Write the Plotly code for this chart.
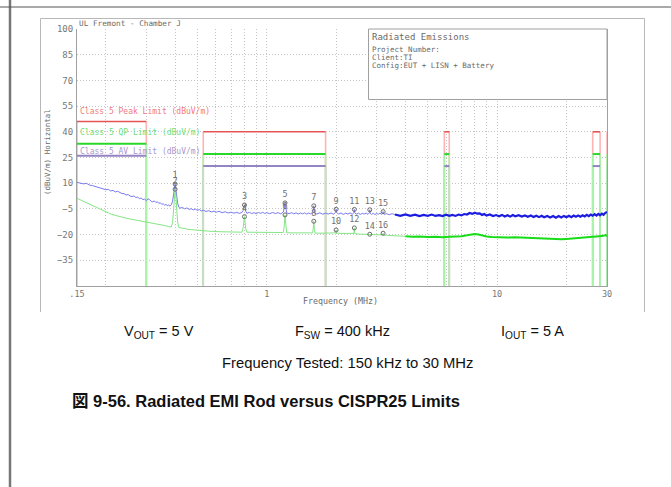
import plotly.graph_objects as go

W, H = 671, 487

# ---------------- data ----------------
# CISPR 25 Class 5 limit bands (MHz, dBuV/m)
band_start = [0.15, 0.53, 5.9, 26.0, 30.0]
band_stop = [0.30, 1.8, 6.2, 28.0, 54.0]
peak_limit = [46, 40, 40, 40, 40]
qp_limit = [33, 27, 27, 27, 27]
av_limit = [26, 20, 20, 20, 20]

# Peak detector sweep, 150 kHz .. 3.6 MHz
peak_lo_f = [
    0.150, 0.155, 0.160, 0.165, 0.170, 0.175, 0.180, 0.185, 0.190, 0.195,
    0.200, 0.205, 0.210, 0.215, 0.220, 0.225, 0.230, 0.235, 0.240, 0.245,
    0.250, 0.255, 0.260, 0.265, 0.270, 0.275, 0.280, 0.285, 0.290, 0.295,
    0.300, 0.305, 0.310, 0.315, 0.320, 0.325, 0.330, 0.335, 0.340, 0.345,
    0.350, 0.355, 0.360, 0.365, 0.370, 0.375, 0.380, 0.385, 0.390, 0.394,
    0.397, 0.400, 0.403, 0.406, 0.410, 0.415, 0.420, 0.430, 0.440, 0.450,
    0.460, 0.470, 0.480, 0.490, 0.500, 0.510, 0.520, 0.530, 0.545, 0.560,
    0.575, 0.590, 0.605, 0.620, 0.640, 0.660, 0.680, 0.700, 0.720, 0.740,
    0.760, 0.780, 0.790, 0.795, 0.800, 0.805, 0.810, 0.820, 0.840, 0.860,
    0.880, 0.900, 0.920, 0.940, 0.960, 0.980, 1.000, 1.030, 1.060, 1.090,
    1.120, 1.150, 1.180, 1.190, 1.195, 1.200, 1.205, 1.210, 1.220, 1.250,
    1.280, 1.310, 1.340, 1.370, 1.400, 1.430, 1.460, 1.490, 1.520, 1.550,
    1.580, 1.590, 1.595, 1.600, 1.605, 1.610, 1.620, 1.650, 1.700, 1.750,
    1.800, 1.850, 1.900, 1.950, 1.990, 2.000, 2.010, 2.050, 2.100, 2.150,
    2.200, 2.250, 2.300, 2.350, 2.390, 2.400, 2.410, 2.450, 2.500, 2.550,
    2.600, 2.650, 2.700, 2.750, 2.790, 2.800, 2.810, 2.850, 2.900, 2.950,
    3.000, 3.050, 3.100, 3.150, 3.190, 3.200, 3.210, 3.250, 3.300, 3.400,
    3.500, 3.600,
]
peak_lo_db = [
    10.5, 10.0, 9.6, 9.9, 8.9, 8.6, 8.1, 7.9, 7.2, 7.0,
    6.2, 6.4, 5.5, 5.8, 4.9, 5.3, 4.4, 4.0, 3.9, 3.1,
    3.4, 2.5, 2.2, 2.6, 1.6, 1.9, 1.0, 1.3, 0.4, 0.7,
    -0.2, 0.9, 0.4, -0.6, -0.9, -0.3, -1.3, -0.8, -1.8, -1.4,
    -2.3, -2.0, -2.8, -2.4, -3.1, -2.7, -3.4, -2.6, -0.5, 3.5,
    7.0, 9.5, 6.5, 2.5, -1.5, -4.0, -4.6, -4.1, -5.0, -4.4,
    -5.3, -4.9, -5.6, -5.1, -5.9, -5.4, -6.2, -5.7, -6.5, -6.0,
    -6.8, -6.3, -6.9, -6.4, -7.2, -6.7, -7.4, -6.9, -7.5, -7.0,
    -7.6, -7.1, -6.0, -4.0, -2.7, -4.2, -6.3, -7.6, -7.0, -7.7,
    -7.2, -7.8, -7.1, -7.6, -7.0, -7.7, -7.2, -7.8, -7.1, -7.7,
    -7.2, -7.9, -6.8, -4.5, -2.5, -1.5, -2.8, -5.0, -7.3, -7.8,
    -7.2, -7.9, -7.3, -8.0, -7.4, -7.9, -7.3, -8.0, -7.4, -7.9,
    -7.0, -5.5, -4.0, -3.2, -4.4, -6.2, -7.6, -8.0, -7.3, -8.1,
    -7.5, -8.0, -7.4, -8.1, -7.0, -5.2, -7.1, -8.0, -7.4, -8.2,
    -7.5, -8.0, -7.4, -8.1, -7.2, -5.3, -7.3, -8.1, -7.5, -8.2,
    -7.6, -8.0, -7.4, -8.2, -7.3, -5.5, -7.4, -8.2, -7.6, -8.3,
    -7.7, -8.1, -7.5, -8.2, -7.6, -6.6, -7.8, -8.3, -7.7, -8.4,
    -7.8, -8.3,
]

# Peak detector sweep, 3.6 MHz .. 30 MHz (dense part)
peak_hi_f = [
    3.6, 3.8, 4.0, 4.2, 4.4, 4.6, 4.8, 5.0, 5.2, 5.4,
    5.6, 5.8, 6.0, 6.2, 6.4, 6.6, 6.8, 7.0, 7.2, 7.4,
    7.6, 7.8, 8.0, 8.2, 8.4, 8.6, 8.8, 9.0, 9.3, 9.6,
    9.9, 10.2, 10.5, 10.8, 11.1, 11.4, 11.7, 12.0, 12.4, 12.8,
    13.2, 13.6, 14.0, 14.4, 14.8, 15.2, 15.6, 16.0, 16.5, 17.0,
    17.5, 18.0, 18.5, 19.0, 19.5, 20.0, 20.5, 21.0, 21.5, 22.0,
    22.5, 23.0, 23.5, 24.0, 24.5, 25.0, 25.5, 26.0, 26.5, 27.0,
    27.5, 28.0, 28.5, 29.0, 29.5, 30.0,
]
peak_hi_db = [
    -8.3, -9.0, -8.2, -9.1, -8.4, -9.2, -8.5, -9.0, -8.3, -9.1,
    -8.6, -9.2, -8.4, -9.0, -8.5, -9.1, -8.3, -8.8, -8.0, -8.3,
    -7.4, -7.9, -7.2, -7.8, -7.6, -8.5, -8.0, -8.9, -8.3, -9.2,
    -8.6, -9.3, -8.5, -9.4, -8.7, -9.5, -8.6, -9.3, -8.7, -9.5,
    -8.8, -9.6, -8.9, -9.7, -9.0, -9.8, -9.0, -9.9, -9.1, -10.0,
    -9.2, -10.1, -9.2, -10.0, -9.1, -9.9, -9.0, -9.8, -8.9, -9.6,
    -8.8, -9.5, -8.7, -9.4, -8.5, -9.2, -8.3, -9.0, -8.1, -8.9,
    -7.9, -8.7, -7.8, -8.4, -7.3, -6.8,
]

# Average detector sweep, 150 kHz .. 4 MHz
avg_lo_f = [
    0.150, 0.155, 0.160, 0.165, 0.170, 0.175, 0.183, 0.190, 0.200, 0.207,
    0.215, 0.225, 0.235, 0.245, 0.255, 0.265, 0.275, 0.285, 0.300, 0.315,
    0.330, 0.345, 0.360, 0.375, 0.385, 0.390, 0.394, 0.397, 0.400, 0.403,
    0.406, 0.410, 0.415, 0.430, 0.450, 0.470, 0.490, 0.520, 0.560, 0.620,
    0.680, 0.740, 0.780, 0.790, 0.795, 0.800, 0.805, 0.810, 0.820, 0.880,
    0.950, 1.000, 1.060, 1.120, 1.180, 1.190, 1.195, 1.200, 1.205, 1.210,
    1.220, 1.300, 1.400, 1.500, 1.580, 1.590, 1.595, 1.600, 1.605, 1.610,
    1.620, 1.700, 1.800, 1.900, 1.990, 2.000, 2.010, 2.100, 2.200, 2.300,
    2.390, 2.400, 2.410, 2.500, 2.600, 2.700, 2.790, 2.800, 2.810, 2.900,
    3.000, 3.100, 3.190, 3.200, 3.210, 3.300, 3.500, 3.700, 4.000,
]
avg_lo_db = [
    1.2, 0.3, -0.6, -1.5, -2.4, -3.2, -4.6, -5.6, -6.8, -7.6,
    -8.4, -9.2, -9.8, -10.4, -10.9, -11.3, -11.7, -12.1, -12.5, -13.1,
    -13.6, -14.1, -14.7, -15.3, -15.6, -13.0, -4.0, 3.0, 6.5, 2.5,
    -4.5, -12.5, -15.8, -16.3, -16.8, -17.1, -17.4, -17.7, -18.0, -18.3,
    -18.5, -18.6, -18.6, -16.0, -12.0, -9.5, -12.5, -16.5, -18.6, -18.7,
    -18.8, -18.7, -18.9, -18.8, -18.8, -15.5, -11.0, -8.5, -11.5, -16.0,
    -18.9, -19.0, -18.9, -19.1, -19.0, -17.0, -14.0, -12.2, -14.5, -17.5,
    -19.1, -19.2, -19.1, -19.3, -19.0, -17.3, -19.1, -19.3, -19.2, -19.5,
    -19.3, -16.1, -19.4, -19.7, -19.8, -20.0, -20.1, -19.8, -20.1, -20.1,
    -20.2, -20.3, -20.2, -19.2, -20.3, -20.4, -20.6, -20.8, -21.0,
]

# Average detector sweep, 4 MHz .. 30 MHz (dense part)
avg_hi_f = [
    4.0, 4.3, 4.6, 5.0, 5.4, 5.8, 6.2, 6.6, 7.0, 7.4,
    7.8, 8.0, 8.3, 8.6, 9.0, 9.5, 10.0, 10.5, 11.0, 12.0,
    13.0, 14.0, 15.0, 16.0, 17.0, 18.0, 19.0, 20.0, 21.0, 22.0,
    23.0, 24.0, 25.0, 26.0, 27.0, 28.0, 29.0, 29.6, 30.0,
]
avg_hi_db = [
    -21.0, -21.3, -21.1, -21.4, -21.2, -21.5, -21.3, -21.2, -20.9, -20.4,
    -19.8, -19.6, -19.9, -20.6, -21.1, -21.4, -21.6, -21.5, -21.7, -21.6,
    -21.8, -21.9, -22.1, -22.4, -22.6, -22.8, -22.7, -22.5, -22.2, -21.9,
    -21.7, -21.5, -21.4, -21.3, -21.1, -21.0, -20.7, -20.2, -21.0,
]

# Numbered harmonic markers (odd = peak, even = average)
marker_id = [str(i) for i in range(1, 17)]
marker_f = [0.4, 0.4, 0.8, 0.8, 1.2, 1.2, 1.6, 1.6,
            2.0, 2.0, 2.4, 2.4, 2.8, 2.8, 3.2, 3.2]
marker_db = [9.5, 6.5, -2.7, -9.5, -1.5, -8.5, -3.2, -12.2,
             -5.2, -17.3, -5.3, -16.1, -5.5, -19.8, -6.6, -19.2]

y_ticks = [-35, -20, -5, 10, 25, 40, 55, 70, 85, 100]
x_ticks = [0.15, 1, 10, 30]
x_ticktext = [".15", "1", "10", "30"]
x_minor = [0.2, 0.3, 0.4, 0.5, 0.6, 0.7, 0.8, 0.9,
           2, 3, 4, 5, 6, 7, 8, 9, 20]

Y_MIN, Y_MAX = -50, 100

# ---------------- helpers ----------------
def pxx(x):
    return x / W


def pxy(y):
    return 1 - y / H


def band_edges(lo, hi, lvl):
    xs, ys = [], []
    for a, b, l in zip(lo, hi, lvl):
        xs += [a, a, None, b, b, None]
        ys += [Y_MIN, l, None, Y_MIN, l, None]
    return xs, ys


def band_tops(lo, hi, lvl):
    xs, ys = [], []
    for a, b, l in zip(lo, hi, lvl):
        xs += [a, b, None]
        ys += [l, l, None]
    return xs, ys


MONO = "DejaVu Sans Mono"
fig = go.Figure()

# limit band edges (light), then levels (solid)
for lvl, col in [(peak_limit, "#ffb4b4"), (av_limit, "#c8bce0"), (qp_limit, "#a8f5a8")]:
    xs, ys = band_edges(band_start, band_stop, lvl)
    fig.add_trace(go.Scatter(x=xs, y=ys, mode="lines",
                             line=dict(color=col, width=1.6), hoverinfo="skip"))

# measurement sweeps
fig.add_trace(go.Scatter(x=peak_lo_f, y=peak_lo_db, mode="lines",
                         line=dict(color="#7a7af0", width=1)))
fig.add_trace(go.Scatter(x=peak_hi_f, y=peak_hi_db, mode="lines",
                         line=dict(color="#1c1ce0", width=2.2)))
fig.add_trace(go.Scatter(x=avg_lo_f, y=avg_lo_db, mode="lines",
                         line=dict(color="#84e684", width=1)))
fig.add_trace(go.Scatter(x=avg_hi_f, y=avg_hi_db, mode="lines",
                         line=dict(color="#18dc18", width=2)))

for lvl, col, w in [(peak_limit, "#e45454", 1.6), (av_limit, "#9484c4", 2),
                    (qp_limit, "#2ad82a", 2)]:
    xs, ys = band_tops(band_start, band_stop, lvl)
    fig.add_trace(go.Scatter(x=xs, y=ys, mode="lines",
                             line=dict(color=col, width=w), hoverinfo="skip"))

fig.add_trace(go.Scatter(
    x=marker_f, y=marker_db, mode="markers+text", text=marker_id,
    textposition="top center",
    textfont=dict(family=MONO, size=8.5, color="#707070"),
    marker=dict(symbol="circle-open", size=4, color="#6a6a6a",
                line=dict(width=1, color="#6a6a6a")),
))

grid = dict(gridcolor="#c4c4c4", griddash="1px,2px", gridwidth=1)

fig.update_xaxes(
    type="log", range=[-0.8239087, 1.4771213],
    domain=[pxx(77), pxx(607)],
    tickvals=x_ticks, ticktext=x_ticktext, ticks="",
    tickfont=dict(family=MONO, size=8.5, color="#777"),
    showline=True, linecolor="#a0a0a0", linewidth=1, mirror=False,
    showgrid=True, zeroline=False, automargin=False,
    minor=dict(tickvals=x_minor, showgrid=True, ticks="", **grid),
    **grid,
)
fig.update_yaxes(
    range=[Y_MIN, Y_MAX], domain=[pxy(286), pxy(29)],
    tickvals=y_ticks, ticks="",
    tickfont=dict(family=MONO, size=9, color="#777"),
    showline=True, linecolor="#a0a0a0", linewidth=1, mirror=True,
    showgrid=True, zeroline=False, ticklabelstandoff=1, automargin=False,
    **grid,
)

shapes = [
    # page frame
    dict(type="line", xref="paper", yref="paper", x0=pxx(10), x1=pxx(10),
         y0=0, y1=1, line=dict(color="#777", width=2.5)),
    dict(type="line", xref="paper", yref="paper", x0=0, x1=1,
         y0=pxy(7), y1=pxy(7), line=dict(color="#555", width=1)),
    # chart image frame
    dict(type="path", xref="paper", yref="paper",
         path=f"M {pxx(40.5)} {pxy(312)} L {pxx(40.5)} {pxy(18.5)} "
              f"L {pxx(644.5)} {pxy(18.5)} L {pxx(644.5)} {pxy(312)}",
         line=dict(color="#b8b8b8", width=1)),
    # info box
    dict(type="rect", xref="paper", yref="paper", layer="above",
         x0=pxx(368.5), x1=pxx(607), y0=pxy(99.5), y1=pxy(29),
         fillcolor="white", line=dict(color="#a0a0a0", width=1)),
]

def note(text, x, y, size, color="#6a6a6a", xanchor="left", family=MONO, **kw):
    return dict(text=text, x=pxx(x), y=pxy(y), xref="paper", yref="paper",
                xanchor=xanchor, yanchor="middle", showarrow=False,
                font=dict(family=family, size=size, color=color), **kw)

SANS = "Liberation Sans, Arial"
annotations = [
    note("UL Fremont - Chamber J", 77, 24, 7.7),
    note("Radiated Emissions", 370, 37, 9),
    note("Project Number:", 370, 50, 7.5),
    note("Client:TI", 370, 57.5, 7.5),
    note("Config:EUT + LISN + Battery", 370, 65, 7.5),
    note("Class 5 Peak Limit (dBuV/m)", 78, 111, 8, color="#f27878"),
    note("Class 5 QP Limit (dBuV/m)", 78, 132, 8, color="#74de74"),
    note("Class 5 AV Limit (dBuV/m)", 78, 151, 8, color="#a898cc"),
    note("(dBuV/m) Horizontal", 48, 152, 7.5, xanchor="center", textangle=-90),
    note("Frequency (MHz)", 340, 301, 8.3, xanchor="center"),
    note("V<sub>OUT</sub> = 5 V", 122, 332, 14.5, color="#111", family=SANS),
    note("F<sub>SW</sub> = 400 kHz", 293, 332, 14.5, color="#111", family=SANS),
    note("I<sub>OUT</sub> = 5 A", 499, 332, 14.5, color="#111", family=SANS),
    note("Frequency Tested: 150 kHz to 30 MHz", 347.5, 363, 14.8, color="#111",
         xanchor="center", family=SANS),
    note("<b>図 9-56. Radiated EMI Rod versus CISPR25 Limits</b>", 266, 401, 16.5,
         color="#111", xanchor="center",
         family="Liberation Sans, Arial, Noto Sans CJK JP"),
]

fig.update_layout(
    width=W, height=H, autosize=False,
    margin=dict(l=0, r=0, t=0, b=0, pad=0),
    paper_bgcolor="white", plot_bgcolor="white",
    showlegend=False, shapes=shapes, annotations=annotations,
    font=dict(family=MONO),
)

# page body without default margins so the figure sits at the window origin
fig.write_html(
    "out.html",
    post_script="document.body.style.margin='0';document.body.style.overflow='hidden';",
)
